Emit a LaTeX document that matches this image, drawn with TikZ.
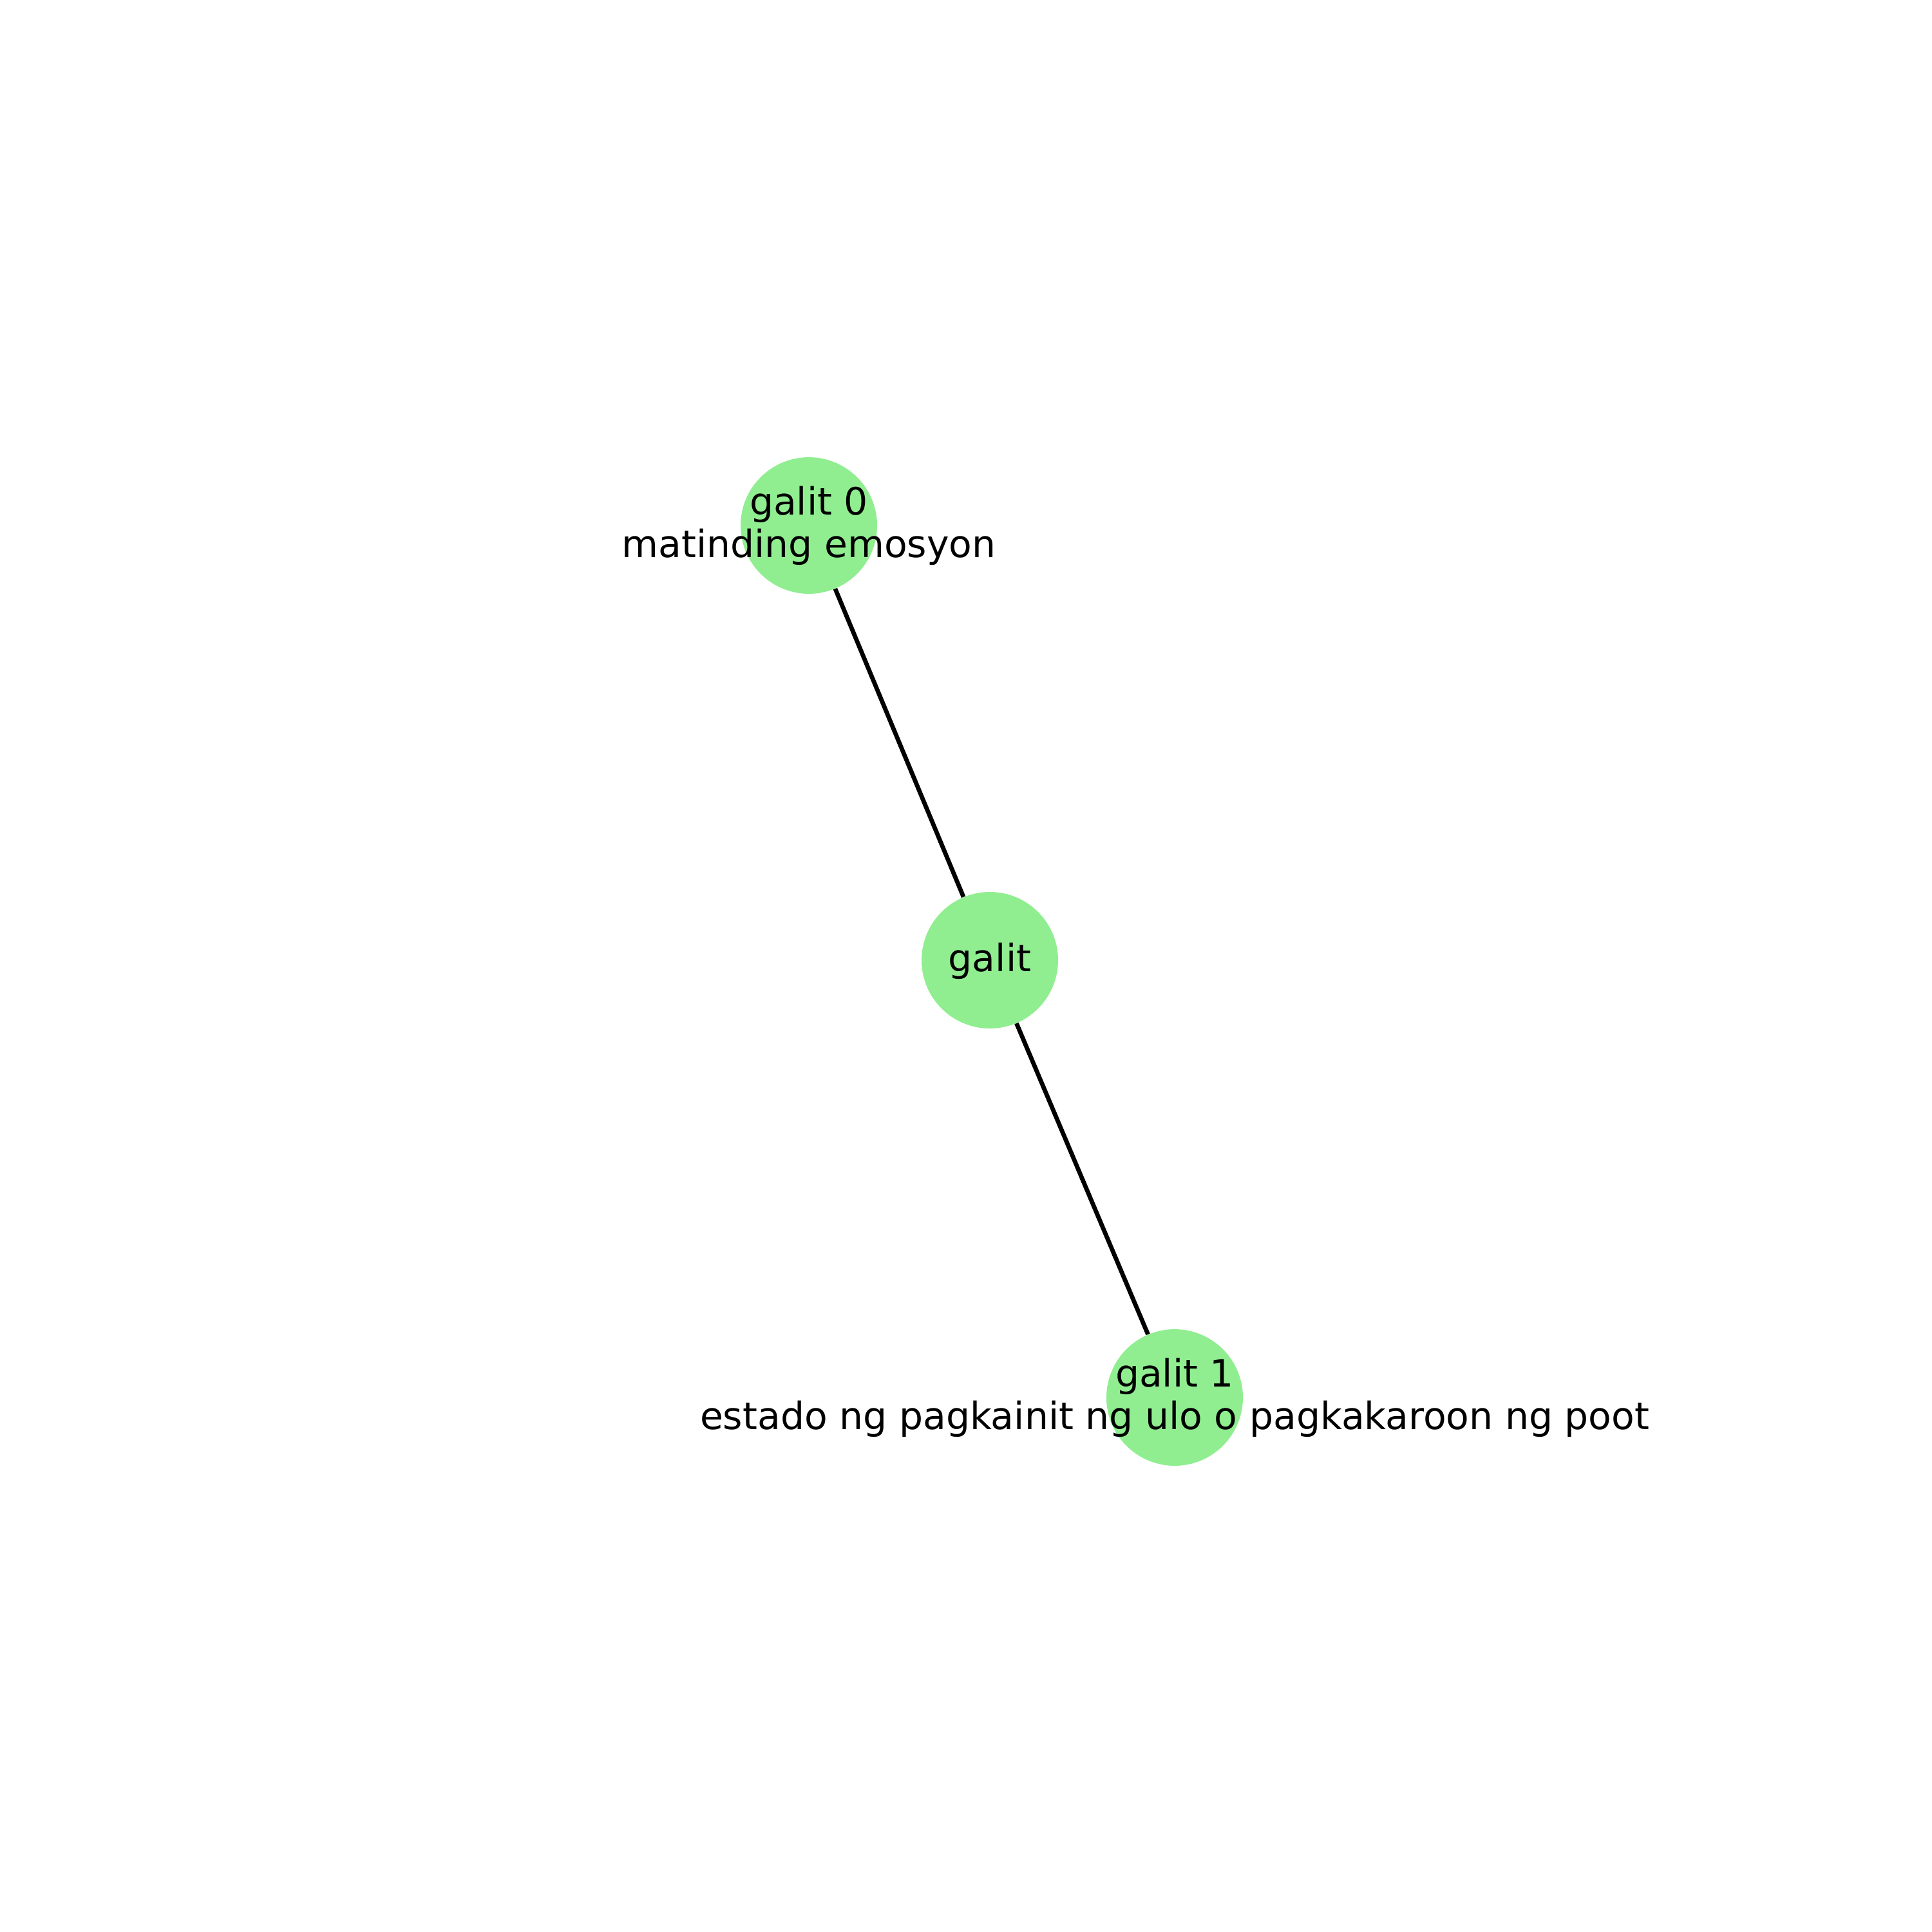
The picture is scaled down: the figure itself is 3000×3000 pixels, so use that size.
\documentclass[tikz,border=0pt]{standalone}
\usepackage{fontspec}
\setmainfont{DejaVu Sans}
\definecolor{nodegreen}{HTML}{90EE90}
\begin{document}
\begin{tikzpicture}[x=0.5pt,y=-0.5pt,
  vertex/.style={circle,fill=nodegreen,minimum size=106pt,inner sep=0pt},
  lbl/.style={align=center,font=\fontsize{29.2}{33}\selectfont,inner sep=0pt,anchor=base},
  edge/.style={line width=3.4pt,black}]
\useasboundingbox (0,0) rectangle (3000,3000);
\node[vertex] (g) at (1537,1491) {};
\node[vertex] (g0) at (1256,816) {};
\node[vertex] (g1) at (1824,2170) {};
\draw[edge] (g0) -- (g);
\draw[edge] (g) -- (g1);
\node[lbl] (tg) at (1537,1508) {galit};
\node[lbl] (tg0) at (1256,865) {galit 0\\matinding emosyon};
\node[lbl] (tg1) at (1824,2219) {galit 1\\estado ng pagkainit ng ulo o pagkakaroon ng poot};
\end{tikzpicture}
\end{document}
